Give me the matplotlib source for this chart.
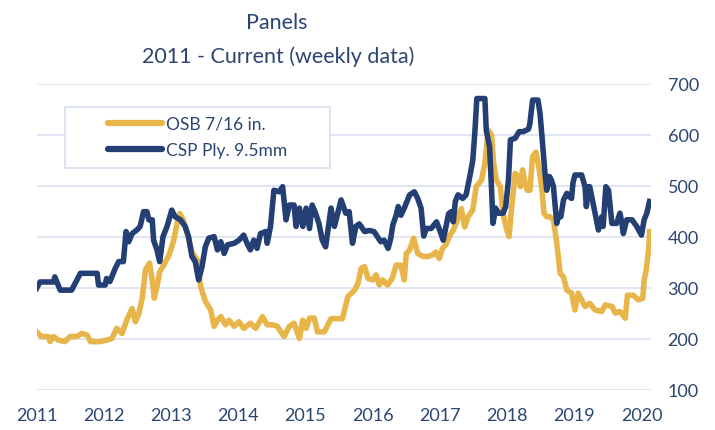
import matplotlib
matplotlib.use("Agg")
import matplotlib.pyplot as plt
from matplotlib.patches import Rectangle

plt.rcParams['font.family'] = ['Lato', 'DejaVu Sans']

# weekly prices (decimal year, value)
osb_year = [2011.00, 2011.07, 2011.17, 2011.20, 2011.25, 2011.32, 2011.42, 2011.50, 2011.60, 2011.67,
            2011.75, 2011.80, 2011.95, 2012.04, 2012.12, 2012.19, 2012.27, 2012.34, 2012.42, 2012.47,
            2012.52, 2012.57, 2012.62, 2012.68, 2012.72, 2012.75, 2012.79, 2012.83, 2012.89, 2012.97,
            2013.04, 2013.09, 2013.13, 2013.18, 2013.24, 2013.31, 2013.39, 2013.44, 2013.51, 2013.59,
            2013.64, 2013.69, 2013.74, 2013.81, 2013.86, 2013.94, 2014.01, 2014.08, 2014.18, 2014.26,
            2014.36, 2014.43, 2014.51, 2014.58, 2014.68, 2014.76, 2014.83, 2014.91, 2014.96, 2015.01,
            2015.06, 2015.13, 2015.18, 2015.28, 2015.38, 2015.55, 2015.63, 2015.73, 2015.78, 2015.83,
            2015.88, 2015.93, 2016.00, 2016.05, 2016.10, 2016.15, 2016.22, 2016.29, 2016.35, 2016.42,
            2016.47, 2016.50, 2016.55, 2016.61, 2016.67, 2016.75, 2016.82, 2016.89, 2016.94, 2016.99,
            2017.04, 2017.09, 2017.15, 2017.20, 2017.25, 2017.32, 2017.37, 2017.42, 2017.49, 2017.54,
            2017.62, 2017.67, 2017.72, 2017.77, 2017.80, 2017.84, 2017.90, 2017.94, 2017.99, 2018.03,
            2018.06, 2018.12, 2018.17, 2018.20, 2018.23, 2018.26, 2018.30, 2018.34, 2018.38, 2018.43,
            2018.48, 2018.52, 2018.55, 2018.59, 2018.64, 2018.69, 2018.74, 2018.79, 2018.84, 2018.89,
            2018.96, 2019.01, 2019.06, 2019.11, 2019.16, 2019.23, 2019.31, 2019.41, 2019.46, 2019.56,
            2019.61, 2019.68, 2019.76, 2019.79, 2019.88, 2019.95, 2020.02, 2020.04, 2020.07, 2020.11,
            2020.12]
osb_val = [214, 205, 205, 195, 205, 198, 195, 205, 205, 211,
           208, 195, 195, 198, 201, 221, 211, 237, 260, 234,
           250, 280, 336, 349, 316, 280, 303, 332, 345, 365,
           394, 427, 446, 434, 407, 371, 355, 303, 274, 257,
           225, 237, 244, 228, 237, 225, 234, 221, 231, 221,
           244, 228, 228, 225, 205, 225, 231, 201, 237, 221,
           241, 241, 214, 214, 240, 240, 283, 296, 309, 339,
           342, 319, 316, 326, 306, 316, 306, 319, 345, 345,
           316, 368, 375, 398, 368, 362, 362, 365, 371, 358,
           378, 385, 404, 414, 430, 456, 420, 440, 453, 499,
           512, 545, 610, 600, 545, 512, 499, 447, 417, 401,
           447, 525, 519, 499, 532, 512, 492, 492, 558, 567,
           532, 492, 447, 440, 440, 434, 388, 329, 322, 296,
           290, 257, 290, 277, 264, 270, 257, 254, 267, 264,
           251, 254, 241, 286, 286, 277, 280, 316, 335, 381,
           411]

csp_year = [2011.00, 2011.05, 2011.25, 2011.27, 2011.35, 2011.52, 2011.65, 2011.90, 2011.92, 2012.02,
            2012.04, 2012.09, 2012.17, 2012.22, 2012.29, 2012.33, 2012.37, 2012.42, 2012.49, 2012.54,
            2012.59, 2012.64, 2012.67, 2012.72, 2012.74, 2012.79, 2012.83, 2012.88, 2012.94, 2013.01,
            2013.06, 2013.14, 2013.21, 2013.26, 2013.31, 2013.36, 2013.41, 2013.46, 2013.51, 2013.56,
            2013.64, 2013.69, 2013.74, 2013.79, 2013.84, 2013.94, 2014.01, 2014.08, 2014.13, 2014.18,
            2014.23, 2014.28, 2014.33, 2014.41, 2014.43, 2014.48, 2014.53, 2014.61, 2014.66, 2014.71,
            2014.76, 2014.83, 2014.86, 2014.91, 2014.96, 2015.01, 2015.06, 2015.10, 2015.15, 2015.20,
            2015.25, 2015.30, 2015.38, 2015.43, 2015.48, 2015.53, 2015.60, 2015.65, 2015.70, 2015.75,
            2015.80, 2015.88, 2015.95, 2016.02, 2016.07, 2016.12, 2016.17, 2016.23, 2016.27, 2016.30,
            2016.35, 2016.38, 2016.42, 2016.47, 2016.55, 2016.62, 2016.67, 2016.72, 2016.76, 2016.80,
            2016.87, 2016.95, 2017.00, 2017.05, 2017.10, 2017.13, 2017.17, 2017.20, 2017.23, 2017.27,
            2017.34, 2017.39, 2017.44, 2017.49, 2017.52, 2017.55, 2017.67, 2017.69, 2017.74, 2017.77,
            2017.79, 2017.83, 2017.87, 2017.94, 2017.98, 2018.02, 2018.05, 2018.12, 2018.18, 2018.24,
            2018.32, 2018.34, 2018.38, 2018.46, 2018.49, 2018.52, 2018.56, 2018.59, 2018.63, 2018.66,
            2018.69, 2018.74, 2018.76, 2018.80, 2018.84, 2018.89, 2018.93, 2018.96, 2018.98, 2019.01,
            2019.11, 2019.16, 2019.18, 2019.21, 2019.23, 2019.28, 2019.33, 2019.36, 2019.41, 2019.43,
            2019.47, 2019.51, 2019.56, 2019.63, 2019.68, 2019.71, 2019.73, 2019.78, 2019.86, 2019.93,
            2020.00, 2020.04, 2020.08, 2020.12]
csp_val = [300, 312, 312, 322, 296, 296, 329, 329, 306, 306,
           319, 313, 339, 352, 352, 411, 391, 407, 414, 421,
           450, 450, 434, 434, 394, 375, 352, 401, 421, 453,
           440, 434, 421, 401, 362, 352, 316, 342, 381, 398,
           401, 375, 391, 368, 385, 388, 394, 404, 388, 375,
           394, 378, 407, 411, 388, 421, 492, 489, 499, 434,
           463, 463, 421, 457, 421, 457, 417, 463, 447, 427,
           394, 381, 457, 421, 447, 473, 447, 450, 388, 421,
           426, 411, 413, 411, 401, 391, 394, 378, 398, 424,
           443, 460, 443, 457, 483, 489, 476, 457, 402, 417,
           417, 430, 413, 394, 426, 446, 450, 430, 470, 483,
           476, 483, 515, 551, 604, 672, 672, 610, 577, 492,
           427, 457, 447, 447, 460, 511, 591, 594, 607, 607,
           612, 623, 669, 669, 643, 597, 532, 492, 519, 512,
           499, 427, 440, 440, 473, 486, 479, 476, 506, 522,
           522, 499, 460, 499, 499, 466, 434, 414, 440, 421,
           499, 492, 427, 427, 447, 427, 407, 434, 434, 421,
           404, 434, 447, 470]

years = list(range(2011, 2021))
yticks = [100, 200, 300, 400, 500, 600, 700]

gold = '#E8B54A'
navy = '#243F73'
text_col = '#2B4571'
grid_col = '#D6DEF0'

fig = plt.figure(figsize=(7.15, 4.3), dpi=100)
ax = fig.add_axes([0.0513, 0.093, 0.859, 0.711])

ax.plot(osb_year, osb_val, color=gold, lw=4.0, solid_joinstyle='round', label='OSB 7/16 in.', zorder=3)
ax.plot(csp_year, csp_val, color=navy, lw=4.0, solid_joinstyle='round', label='CSP Ply. 9.5mm', zorder=4)

ax.set_xlim(2011.0, 2020.14)
ax.set_ylim(100, 700)
ax.set_xticks(years)
ax.set_xticklabels([str(y) for y in years])
ax.set_yticks(yticks)
ax.yaxis.tick_right()
ax.tick_params(axis='x', length=0, pad=13, labelsize=13, labelcolor=text_col)
ax.tick_params(axis='y', length=0, pad=12, labelsize=13, labelcolor=text_col)
ax.grid(axis='y', color=grid_col, lw=1.1)
ax.set_axisbelow(True)
for s in ax.spines.values():
    s.set_visible(False)

# legend box like the original (wider than its content)
box = (0.046, 0.727, 0.432, 0.199)
ax.add_patch(Rectangle(box[:2], box[2], box[3], transform=ax.transAxes,
                       facecolor='white', edgecolor=grid_col, lw=1.2, zorder=5))
leg = ax.legend(loc='center', bbox_to_anchor=box, frameon=False, fontsize=12.5,
                handlelength=3.1, handletextpad=0.25, labelspacing=0.6, labelcolor=text_col)
leg.set_zorder(6)
for h in leg.get_lines():
    h.set_linewidth(4.5)
    h.set_solid_capstyle('round')

fig.text(0.387, 0.947, 'Panels', ha='center', va='center', fontsize=15.5, color=text_col)
fig.text(0.389, 0.867, '2011 - Current (weekly data)', ha='center', va='center', fontsize=15.5, color=text_col)

fig.savefig('out.png', dpi=100)
